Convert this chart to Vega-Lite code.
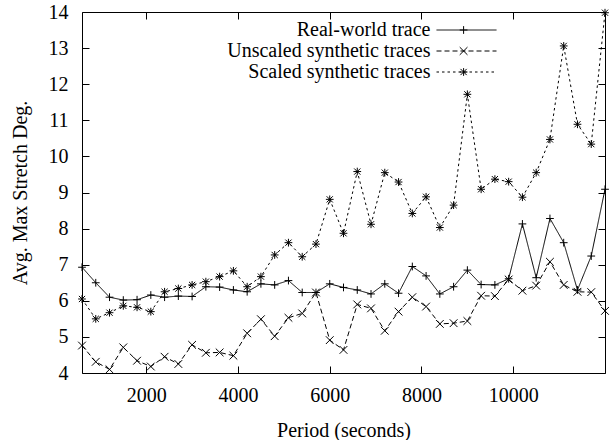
{
  "$schema": "https://vega.github.io/schema/vega-lite/v6.json",
  "width": 523,
  "height": 361,
  "autosize": "none",
  "padding": {"left": 82, "top": 12, "right": 11, "bottom": 67},
  "background": "white",
  "config": {
    "view": {"stroke": "black", "strokeWidth": 1},
    "font": "Liberation Serif",
    "axis": {"grid": false, "domain": false, "tickColor": "black", "labelColor": "black", "titleColor": "black", "labelFont": "Liberation Serif", "titleFont": "Liberation Serif", "labelFontSize": 20, "titleFontSize": 20, "titleFontWeight": "normal", "tickWidth": 1}
  },
  "data": {"values": [
    {"period": 600, "series": "Real-world trace", "value": 6.93},
    {"period": 900, "series": "Real-world trace", "value": 6.5},
    {"period": 1200, "series": "Real-world trace", "value": 6.1},
    {"period": 1500, "series": "Real-world trace", "value": 6.02},
    {"period": 1800, "series": "Real-world trace", "value": 6.03},
    {"period": 2100, "series": "Real-world trace", "value": 6.16},
    {"period": 2400, "series": "Real-world trace", "value": 6.1},
    {"period": 2700, "series": "Real-world trace", "value": 6.13},
    {"period": 3000, "series": "Real-world trace", "value": 6.12},
    {"period": 3300, "series": "Real-world trace", "value": 6.39},
    {"period": 3600, "series": "Real-world trace", "value": 6.38},
    {"period": 3900, "series": "Real-world trace", "value": 6.3},
    {"period": 4200, "series": "Real-world trace", "value": 6.25},
    {"period": 4500, "series": "Real-world trace", "value": 6.47},
    {"period": 4800, "series": "Real-world trace", "value": 6.44},
    {"period": 5100, "series": "Real-world trace", "value": 6.56},
    {"period": 5400, "series": "Real-world trace", "value": 6.23},
    {"period": 5700, "series": "Real-world trace", "value": 6.23},
    {"period": 6000, "series": "Real-world trace", "value": 6.47},
    {"period": 6300, "series": "Real-world trace", "value": 6.37},
    {"period": 6600, "series": "Real-world trace", "value": 6.3},
    {"period": 6900, "series": "Real-world trace", "value": 6.19},
    {"period": 7200, "series": "Real-world trace", "value": 6.47},
    {"period": 7500, "series": "Real-world trace", "value": 6.21},
    {"period": 7800, "series": "Real-world trace", "value": 6.95},
    {"period": 8100, "series": "Real-world trace", "value": 6.69},
    {"period": 8400, "series": "Real-world trace", "value": 6.19},
    {"period": 8700, "series": "Real-world trace", "value": 6.39},
    {"period": 9000, "series": "Real-world trace", "value": 6.85},
    {"period": 9300, "series": "Real-world trace", "value": 6.45},
    {"period": 9600, "series": "Real-world trace", "value": 6.44},
    {"period": 9900, "series": "Real-world trace", "value": 6.61},
    {"period": 10200, "series": "Real-world trace", "value": 8.13},
    {"period": 10500, "series": "Real-world trace", "value": 6.64},
    {"period": 10800, "series": "Real-world trace", "value": 8.28},
    {"period": 11100, "series": "Real-world trace", "value": 7.61},
    {"period": 11400, "series": "Real-world trace", "value": 6.3},
    {"period": 11700, "series": "Real-world trace", "value": 7.24},
    {"period": 12000, "series": "Real-world trace", "value": 9.09},
    {"period": 600, "series": "Unscaled synthetic traces", "value": 4.76},
    {"period": 900, "series": "Unscaled synthetic traces", "value": 4.31},
    {"period": 1200, "series": "Unscaled synthetic traces", "value": 4.1},
    {"period": 1500, "series": "Unscaled synthetic traces", "value": 4.71},
    {"period": 1800, "series": "Unscaled synthetic traces", "value": 4.34},
    {"period": 2100, "series": "Unscaled synthetic traces", "value": 4.18},
    {"period": 2400, "series": "Unscaled synthetic traces", "value": 4.45},
    {"period": 2700, "series": "Unscaled synthetic traces", "value": 4.25},
    {"period": 3000, "series": "Unscaled synthetic traces", "value": 4.78},
    {"period": 3300, "series": "Unscaled synthetic traces", "value": 4.56},
    {"period": 3600, "series": "Unscaled synthetic traces", "value": 4.57},
    {"period": 3900, "series": "Unscaled synthetic traces", "value": 4.48},
    {"period": 4200, "series": "Unscaled synthetic traces", "value": 5.1},
    {"period": 4500, "series": "Unscaled synthetic traces", "value": 5.49},
    {"period": 4800, "series": "Unscaled synthetic traces", "value": 5.02},
    {"period": 5100, "series": "Unscaled synthetic traces", "value": 5.53},
    {"period": 5400, "series": "Unscaled synthetic traces", "value": 5.65},
    {"period": 5700, "series": "Unscaled synthetic traces", "value": 6.23},
    {"period": 6000, "series": "Unscaled synthetic traces", "value": 4.91},
    {"period": 6300, "series": "Unscaled synthetic traces", "value": 4.64},
    {"period": 6600, "series": "Unscaled synthetic traces", "value": 5.9},
    {"period": 6900, "series": "Unscaled synthetic traces", "value": 5.79},
    {"period": 7200, "series": "Unscaled synthetic traces", "value": 5.17},
    {"period": 7500, "series": "Unscaled synthetic traces", "value": 5.7},
    {"period": 7800, "series": "Unscaled synthetic traces", "value": 6.1},
    {"period": 8100, "series": "Unscaled synthetic traces", "value": 5.84},
    {"period": 8400, "series": "Unscaled synthetic traces", "value": 5.36},
    {"period": 8700, "series": "Unscaled synthetic traces", "value": 5.38},
    {"period": 9000, "series": "Unscaled synthetic traces", "value": 5.44},
    {"period": 9300, "series": "Unscaled synthetic traces", "value": 6.14},
    {"period": 9600, "series": "Unscaled synthetic traces", "value": 6.13},
    {"period": 9900, "series": "Unscaled synthetic traces", "value": 6.59},
    {"period": 10200, "series": "Unscaled synthetic traces", "value": 6.28},
    {"period": 10500, "series": "Unscaled synthetic traces", "value": 6.42},
    {"period": 10800, "series": "Unscaled synthetic traces", "value": 7.08},
    {"period": 11100, "series": "Unscaled synthetic traces", "value": 6.44},
    {"period": 11400, "series": "Unscaled synthetic traces", "value": 6.25},
    {"period": 11700, "series": "Unscaled synthetic traces", "value": 6.24},
    {"period": 12000, "series": "Unscaled synthetic traces", "value": 5.72},
    {"period": 600, "series": "Scaled synthetic traces", "value": 6.05},
    {"period": 900, "series": "Scaled synthetic traces", "value": 5.5},
    {"period": 1200, "series": "Scaled synthetic traces", "value": 5.67},
    {"period": 1500, "series": "Scaled synthetic traces", "value": 5.86},
    {"period": 1800, "series": "Scaled synthetic traces", "value": 5.82},
    {"period": 2100, "series": "Scaled synthetic traces", "value": 5.7},
    {"period": 2400, "series": "Scaled synthetic traces", "value": 6.25},
    {"period": 2700, "series": "Scaled synthetic traces", "value": 6.34},
    {"period": 3000, "series": "Scaled synthetic traces", "value": 6.44},
    {"period": 3300, "series": "Scaled synthetic traces", "value": 6.53},
    {"period": 3600, "series": "Scaled synthetic traces", "value": 6.67},
    {"period": 3900, "series": "Scaled synthetic traces", "value": 6.83},
    {"period": 4200, "series": "Scaled synthetic traces", "value": 6.39},
    {"period": 4500, "series": "Scaled synthetic traces", "value": 6.67},
    {"period": 4800, "series": "Scaled synthetic traces", "value": 7.27},
    {"period": 5100, "series": "Scaled synthetic traces", "value": 7.61},
    {"period": 5400, "series": "Scaled synthetic traces", "value": 7.22},
    {"period": 5700, "series": "Scaled synthetic traces", "value": 7.57},
    {"period": 6000, "series": "Scaled synthetic traces", "value": 8.81},
    {"period": 6300, "series": "Scaled synthetic traces", "value": 7.87},
    {"period": 6600, "series": "Scaled synthetic traces", "value": 9.58},
    {"period": 6900, "series": "Scaled synthetic traces", "value": 8.12},
    {"period": 7200, "series": "Scaled synthetic traces", "value": 9.55},
    {"period": 7500, "series": "Scaled synthetic traces", "value": 9.29},
    {"period": 7800, "series": "Scaled synthetic traces", "value": 8.42},
    {"period": 8100, "series": "Scaled synthetic traces", "value": 8.88},
    {"period": 8400, "series": "Scaled synthetic traces", "value": 8.03},
    {"period": 8700, "series": "Scaled synthetic traces", "value": 8.65},
    {"period": 9000, "series": "Scaled synthetic traces", "value": 11.72},
    {"period": 9300, "series": "Scaled synthetic traces", "value": 9.09},
    {"period": 9600, "series": "Scaled synthetic traces", "value": 9.37},
    {"period": 9900, "series": "Scaled synthetic traces", "value": 9.3},
    {"period": 10200, "series": "Scaled synthetic traces", "value": 8.87},
    {"period": 10500, "series": "Scaled synthetic traces", "value": 9.55},
    {"period": 10800, "series": "Scaled synthetic traces", "value": 10.47},
    {"period": 11100, "series": "Scaled synthetic traces", "value": 13.06},
    {"period": 11400, "series": "Scaled synthetic traces", "value": 10.89},
    {"period": 11700, "series": "Scaled synthetic traces", "value": 10.34},
    {"period": 12000, "series": "Scaled synthetic traces", "value": 13.98}
  ]},
  "layer": [
    {
      "mark": {"type": "line", "color": "black", "strokeWidth": 1, "clip": false},
      "encoding": {
        "x": {"field": "period", "type": "quantitative", "scale": {"domain": [600, 12000], "nice": false, "zero": false},
          "axis": {"orient": "bottom", "values": [2000, 4000, 6000, 8000, 10000], "format": "d", "tickSize": -7, "labelPadding": 19, "title": "Period (seconds)", "titleY": 57, "titleBaseline": "middle"}},
        "y": {"field": "value", "type": "quantitative", "scale": {"domain": [4, 14], "nice": false, "zero": false},
          "axis": {"orient": "left", "values": [4, 5, 6, 7, 8, 9, 10, 11, 12, 13, 14], "tickSize": -7, "labelPadding": 21, "title": "Avg. Max Stretch Deg.", "titleX": -62, "titleY": 180.5, "titleBaseline": "middle", "titleAngle": 270}},
        "strokeDash": {"field": "series", "type": "nominal",
          "scale": {"domain": ["Real-world trace", "Unscaled synthetic traces", "Scaled synthetic traces"], "range": [[1, 0], [5, 3], [2.5, 3]]},
          "legend": {"orient": "none", "legendX": 374.5, "legendY": 8, "title": null, "symbolType": "M-30,0H30", "symbolSize": 4, "symbolStrokeColor": "black", "symbolStrokeWidth": 1, "symbolFillColor": "transparent", "labelAlign": "right", "labelOffset": -46, "labelFont": "Liberation Serif", "labelFontSize": 20, "labelColor": "black", "labelLimit": 400, "rowPadding": 1, "padding": 0}}
      }
    },
    {
      "mark": {"type": "point", "filled": false, "color": "black", "strokeWidth": 1, "size": 60, "opacity": 1, "clip": false},
      "encoding": {
        "x": {"field": "period", "type": "quantitative",
          "axis": {"orient": "top", "values": [2000, 4000, 6000, 8000, 10000], "labels": false, "tickSize": -7, "title": null}},
        "y": {"field": "value", "type": "quantitative",
          "axis": {"orient": "right", "values": [4, 5, 6, 7, 8, 9, 10, 11, 12, 13, 14], "labels": false, "tickSize": -7, "title": null}},
        "shape": {"field": "series", "type": "nominal", "sort": null,
          "scale": {"range": ["M-1,0H1M0,-1V1", "M-1,-1L1,1M-1,1L1,-1", "M-1,0H1M0,-1V1M-0.8,-0.8L0.8,0.8M-0.8,0.8L0.8,-0.8"]},
          "legend": {"orient": "none", "legendX": 371.6, "legendY": 8, "title": null, "symbolSize": 60, "symbolStrokeColor": "black", "symbolStrokeWidth": 1, "symbolFillColor": "transparent", "labelExpr": "'.'", "labelOpacity": 0, "labelFontSize": 20, "labelFont": "Liberation Serif", "rowPadding": 1, "padding": 0}}
      }
    }
  ]
}
